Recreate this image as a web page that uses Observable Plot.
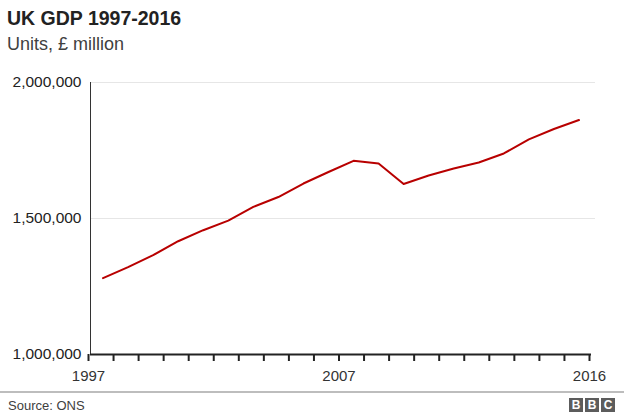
<!DOCTYPE html>
<html>
<head>
<meta charset="utf-8">
<script src="https://cdn.jsdelivr.net/npm/d3@7"></script>
<script src="https://cdn.jsdelivr.net/npm/@observablehq/plot@0.6"></script>
<style>
  html, body { margin: 0; padding: 0; background: #fff; }
  #page { position: relative; width: 624px; height: 415px; overflow: hidden; font-family: "Liberation Sans", Arial, Helvetica, sans-serif; }
  .title { position: absolute; left: 7px; top: 8.5px; font-size: 19.5px; line-height: 1; font-weight: bold; color: #222; white-space: nowrap; }
  .subtitle { position: absolute; left: 7px; top: 34.8px; font-size: 18px; line-height: 1; color: #404040; white-space: nowrap; }
  #chart { position: absolute; left: 0; top: 62px; }
  .rule { position: absolute; left: 0; top: 390.5px; width: 624px; height: 2px; background: #bdbdbd; }
  .source { position: absolute; left: 8px; top: 399px; font-size: 13px; line-height: 1; color: #404040; white-space: nowrap; }
  .logo { position: absolute; top: 398px; width: 14px; height: 14px; background: #5c5c5c; color: #fff; font-weight: bold; font-size: 12px; line-height: 14px; text-align: center; }
</style>
</head>
<body>
<div id="page">
  <div class="title">UK GDP 1997-2016</div>
  <div class="subtitle">Units, £ million</div>
  <div id="chart"></div>
  <div class="rule"></div>
  <div class="source">Source: ONS</div>
  <div class="logo" style="left:569px">B</div>
  <div class="logo" style="left:585px">B</div>
  <div class="logo" style="left:601px">C</div>
</div>
<script>
const years = [1997, 1998, 1999, 2000, 2001, 2002, 2003, 2004, 2005, 2006,
               2007, 2008, 2009, 2010, 2011, 2012, 2013, 2014, 2015, 2016];
const gdp = [1280500, 1321000, 1365000, 1416500, 1457000, 1492000, 1542600, 1579000, 1628600, 1671000,
             1712000, 1702000, 1627000, 1658000, 1684000, 1706000, 1739000, 1791000, 1829000, 1862000];
const yTicks = [1000000, 1500000, 2000000];
const yGrid = [1500000, 2000000];
const xTickValues = [1997, 2007, 2017];
const xTickLabels = ["1997", "2007", "2016"];

const data = years.map((year, i) => ({year, gdp: gdp[i]}));
const yearEdges = d3.range(years[0], years[years.length - 1] + 2);
const labelFor = d => {
  const k = xTickValues.indexOf(d);
  return k >= 0 ? xTickLabels[k] : "";
};

const chart = Plot.plot({
  width: 624,
  height: 326,
  marginTop: 20,
  marginBottom: 34,
  marginLeft: 90,
  marginRight: 33,
  style: {fontFamily: "'Liberation Sans', Arial, Helvetica, sans-serif", fontSize: "15px", color: "#222", background: "transparent", overflow: "visible"},
  x: {domain: [yearEdges[0], yearEdges[yearEdges.length - 1]], axis: null},
  y: {domain: [yTicks[0], yTicks[yTicks.length - 1]], axis: null},
  marks: [
    Plot.ruleY(yGrid, {stroke: "#e6e6e6", strokeWidth: 1, insetRight: -4}),
    Plot.ruleX([yearEdges[0]], {y1: yTicks[0], y2: yTicks[yTicks.length - 1], stroke: "#333", strokeWidth: 1}),
    Plot.axisY(yTicks, {tickSize: 0, tickPadding: 9, tickFormat: d3.format(","), fontSize: 15.5, fill: "#222", label: null}),
    Plot.axisX(yearEdges, {tickSize: 7, tickPadding: 9, stroke: "#222", strokeWidth: 2, tickFormat: labelFor, fontSize: 15, fill: "#333", dx: -2, label: null}),
    Plot.ruleY([yTicks[0]], {stroke: "#222", strokeWidth: 2}),
    Plot.line(data, {x: d => d.year + 0.5, y: "gdp", stroke: "#b80000", strokeWidth: 2})
  ]
});
document.getElementById("chart").appendChild(chart);
</script>
</body>
</html>
